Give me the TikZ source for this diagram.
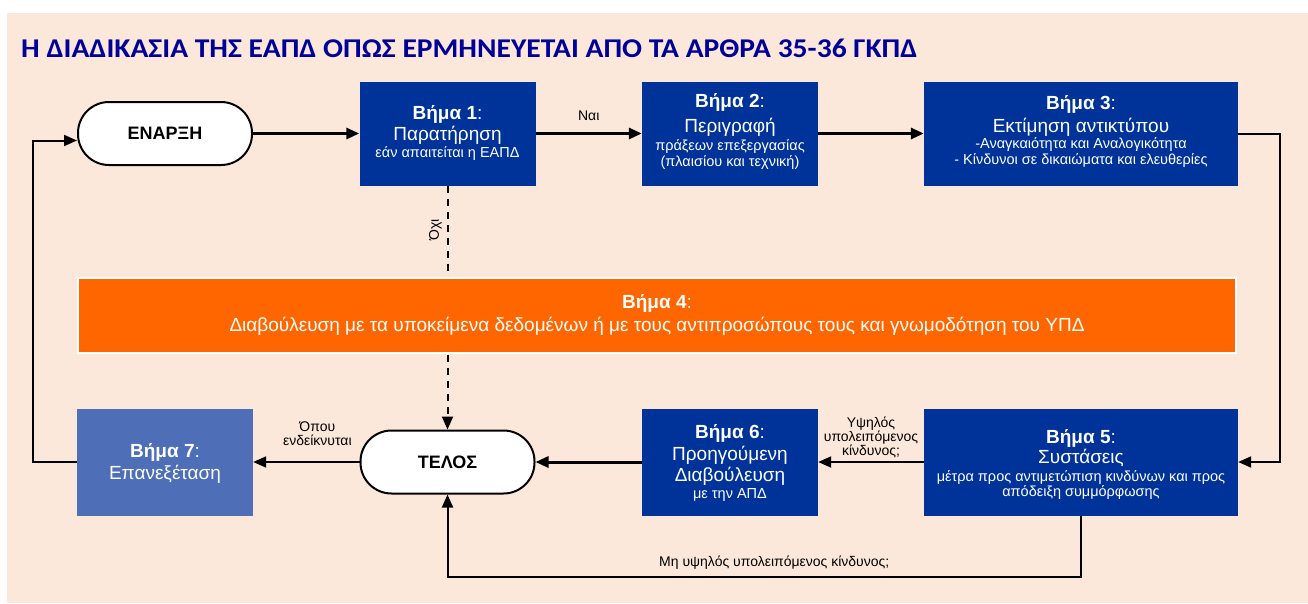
\documentclass[tikz,border=0pt]{standalone}
\usepackage{fontspec}
\setmainfont{Liberation Sans}
\newfontfamily\titlefont{Carlito}
\usetikzlibrary{arrows.meta}
\definecolor{bgpeach}{RGB}{252,232,218}
\definecolor{stepblue}{RGB}{0,51,153}
\definecolor{lightblue}{RGB}{78,110,183}
\definecolor{orangebar}{RGB}{255,102,0}
\definecolor{titleblue}{RGB}{0,0,153}
\newcommand\fsz[1]{\fontsize{#1}{#1}\selectfont}
\tikzset{
  stepbox/.style={fill=stepblue, inner sep=0pt},
  smallbox/.style={stepbox, minimum width=176pt, minimum height=104pt},
  widebox/.style={stepbox, minimum width=314pt, minimum height=104pt},
  terminal/.style={draw=black, line width=2pt, fill=white, rounded corners=31pt,
    minimum width=174pt, minimum height=63pt, inner sep=0pt, font=\fsz{18}\bfseries},
  tl/.style={anchor=base, inner sep=0pt, text=white},
  head/.style={tl, font=\fsz{19}},
  main/.style={tl, font=\fsz{19}},
  sub/.style={tl, font=\fsz{14.5}},
  lbl/.style={inner sep=0pt, font=\fsz{14}, align=center, text=black},
  tip/.style={-{Triangle[length=13pt,width=11pt]}},
  thickarr/.style={tip, line width=3pt},
  arr/.style={tip, line width=2pt},
  dasharr/.style={tip, line width=2pt, dash pattern=on 7pt off 6pt},
}
\begin{document}
\begin{tikzpicture}[x=1pt,y=-1pt]
\useasboundingbox (0,0) rectangle (1308,603);
\fill[white] (0,0) rectangle (1308,603);
\fill[bgpeach] (7,13) rectangle (1308,603);

% title
\node[anchor=base west, inner sep=0pt, text=titleblue] (title) at (21,57)
  {\resizebox{896pt}{18.5pt}{\titlefont\bfseries Η ΔΙΑΔΙΚΑΣΙΑ ΤΗΣ ΕΑΠΔ ΟΠΩΣ ΕΡΜΗΝΕΥΕΤΑΙ ΑΠΟ ΤΑ ΑΡΘΡΑ 35-36 ΓΚΠΔ}};

% terminals
\node[terminal] (start) at (165,133.5) {ΕΝΑΡΞΗ};
\node[terminal] (end) at (447.5,462) {ΤΕΛΟΣ};

% step boxes
\node[smallbox] (s1) at (447.5,133.5) {};
\node[head] (s1a) at (447.5,119) {\textbf{Βήμα 1}:};
\node[main] (s1b) at (447.5,140) {Παρατήρηση};
\node[sub]  (s1c) at (447.5,157) {εάν απαιτείται η ΕΑΠΔ};

\node[smallbox] (s2) at (730,133.5) {};
\node[head] (s2a) at (730,107) {\textbf{Βήμα 2}:};
\node[main] (s2b) at (730,132) {Περιγραφή};
\node[sub]  (s2c) at (730,150) {πράξεων επεξεργασίας};
\node[sub]  (s2d) at (730,166) {(πλαισίου και τεχνική)};

\node[widebox] (s3) at (1081,133.5) {};
\node[head] (s3a) at (1081,109) {\textbf{Βήμα 3}:};
\node[main] (s3b) at (1081,132) {Εκτίμηση αντικτύπου};
\node[sub]  (s3c) at (1081,148) {-Αναγκαιότητα και Αναλογικότητα};
\node[sub]  (s3d) at (1081,164) {- Κίνδυνοι σε δικαιώματα και ελευθερίες};

\node[widebox, minimum height=107pt] (s5) at (1081,462) {};
\node[head] (s5a) at (1081,443) {\textbf{Βήμα 5}:};
\node[main] (s5b) at (1081,463) {Συστάσεις};
\node[sub]  (s5c) at (1081,481) {μέτρα προς αντιμετώπιση κινδύνων και προς};
\node[sub]  (s5d) at (1081,496) {απόδειξη συμμόρφωσης};

\node[smallbox, minimum height=107pt] (s6) at (730,462) {};
\node[head] (s6a) at (730,438) {\textbf{Βήμα 6}:};
\node[main] (s6b) at (730,460) {Προηγούμενη};
\node[main] (s6c) at (730,481) {Διαβούλευση};
\node[sub]  (s6d) at (730,498) {με την ΑΠΔ};

\node[smallbox, fill=lightblue, minimum height=107pt] (s7) at (165,462) {};
\node[head] (s7a) at (165,457) {\textbf{Βήμα 7}:};
\node[main] (s7b) at (165,479) {Επανεξέταση};

% connectors
\draw[thickarr] (start.east) -- (s1.west);
\draw[thickarr] (s1.east) -- node[lbl, above=11pt] (lyes) {Ναι} (s2.west);
\draw[thickarr] (s2.east) -- (s3.west);
\coordinate (rb) at (1280,462);
\draw[arr] (s3.east) -| (rb) -- (s5.east);
\draw[arr] (s5.west) -- node[lbl, above=3pt] (lhigh) {Υψηλός\\υπολειπόμενος\\κίνδυνος;} (s6.east);
\draw[thickarr] (s6.west) -- (end.east);
\draw[arr] (end.west) -- node[lbl, above=15pt, xshift=11pt] (lwhere) {Όπου\\ενδείκνυται} (s7.east);
\coordinate (lb) at (33,462);
\draw[arr] (s7.west) -- (lb) |- ([yshift=-7pt]start.west);
\coordinate (bb) at (1081,577);
\draw[arr] (s5.south) -- (bb) -- node[lbl, above=7pt, xshift=10pt] (llow) {Μη υψηλός υπολειπόμενος κίνδυνος;} (bb -| end.south) -- (end.south);
\draw[dasharr] (s1.south) -- node[lbl, pos=0.18, xshift=-12pt, rotate=90] (lno) {Όχι} (end.north);

% step 4 bar (drawn over the dashed line)
\node[fill=orangebar, draw=white, line width=2pt, minimum width=1158pt, minimum height=75pt, inner sep=0pt] (s4) at (657,315.5) {};
\node[tl, font=\fsz{19}] (s4a) at (657,308) {\textbf{Βήμα 4}:};
\node[tl, font=\fsz{19}] (s4b) at (657,331) {Διαβούλευση με τα υποκείμενα δεδομένων ή με τους αντιπροσώπους τους και γνωμοδότηση του ΥΠΔ};
\end{tikzpicture}
\end{document}
